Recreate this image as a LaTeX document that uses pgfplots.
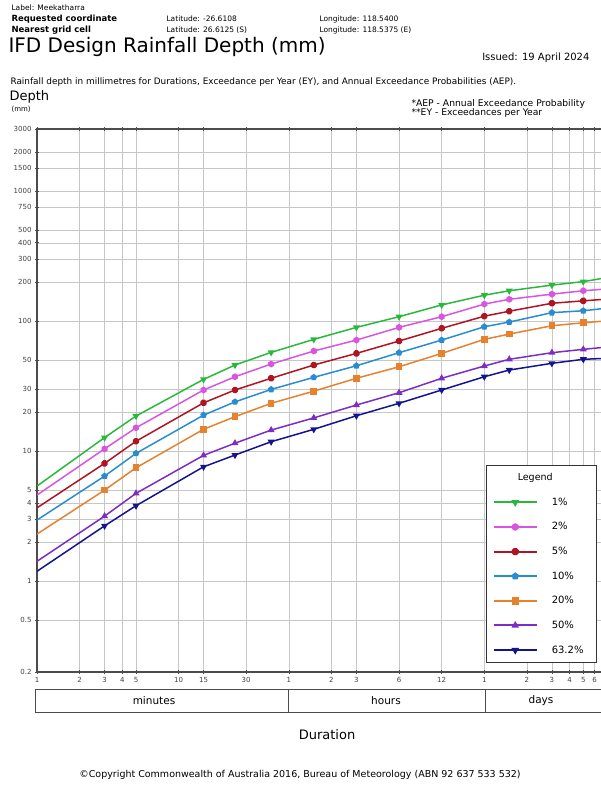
\documentclass[border=0pt]{standalone}
\usepackage{pgfplots}
\pgfplotsset{compat=1.18}
\usepackage{fontspec}
\setmainfont{DejaVu Sans}

\definecolor{aep1}{RGB}{40,185,60}
\definecolor{aep2}{RGB}{215,85,225}
\definecolor{aep5}{RGB}{175,20,35}
\definecolor{aep10}{RGB}{40,140,210}
\definecolor{aep20}{RGB}{230,130,45}
\definecolor{aep50}{RGB}{125,45,195}
\definecolor{aep63}{RGB}{20,20,145}

\pgfdeclareplotmark{hexagon*}{%
  \pgfpathmoveto{\pgfpointpolar{90}{\pgfplotmarksize}}%
  \pgfpathlineto{\pgfpointpolar{150}{\pgfplotmarksize}}%
  \pgfpathlineto{\pgfpointpolar{210}{\pgfplotmarksize}}%
  \pgfpathlineto{\pgfpointpolar{270}{\pgfplotmarksize}}%
  \pgfpathlineto{\pgfpointpolar{330}{\pgfplotmarksize}}%
  \pgfpathlineto{\pgfpointpolar{30}{\pgfplotmarksize}}%
  \pgfpathclose\pgfusepathqfillstroke}
\pgfdeclareplotmark{octagon*}{%
  \pgfpathmoveto{\pgfpointpolar{22.5}{\pgfplotmarksize}}%
  \pgfpathlineto{\pgfpointpolar{67.5}{\pgfplotmarksize}}%
  \pgfpathlineto{\pgfpointpolar{112.5}{\pgfplotmarksize}}%
  \pgfpathlineto{\pgfpointpolar{157.5}{\pgfplotmarksize}}%
  \pgfpathlineto{\pgfpointpolar{202.5}{\pgfplotmarksize}}%
  \pgfpathlineto{\pgfpointpolar{247.5}{\pgfplotmarksize}}%
  \pgfpathlineto{\pgfpointpolar{292.5}{\pgfplotmarksize}}%
  \pgfpathlineto{\pgfpointpolar{337.5}{\pgfplotmarksize}}%
  \pgfpathclose\pgfusepathqfillstroke}

% duration (minutes) vs depth (mm), one column per AEP
\pgfplotstableread{
dur   a1     a2     a5     a10    a20    a50    a63
1     5.38   4.59   3.66   2.95   2.30   1.42   1.19
3     12.7   10.4   8.04   6.42   5.01   3.16   2.66
5     18.6   15.1   11.9   9.60   7.44   4.73   3.80
15    35.6   29.5   23.5   18.9   14.7   9.27   7.57
25    45.9   37.3   29.5   23.9   18.4   11.5   9.32
45    57.4   46.7   36.3   29.8   23.3   14.5   11.8
90    72.3   58.8   45.9   36.9   28.9   18.0   14.7
180   89.4   71.4   56.4   45.3   36.3   22.6   18.7
360   108    89.4   70.2   57.1   44.5   28.1   23.3
720   133    108    87.9   71.4   56.4   36.3   29.5
1440  158    135    109    90.4   72.3   45.1   37.3
2160  171    147    119    98.2   79.4   50.8   42.0
4320  189    161    137    116    92.0   57.1   47.3
7200  201    171    143    120    97.0   60.6   50.8
10080 214    176    147    125    100    62.8   51.6
}\ifd

\begin{document}
\begin{tikzpicture}
\useasboundingbox (0,0) rectangle (600pt,791pt);

% header
\node[anchor=west, font=\fontsize{7.5}{8}\selectfont] at (8pt,783pt) {Label: Meekatharra};
\node[anchor=west, font=\fontsize{8.5}{9}\selectfont\bfseries] at (8pt,772pt) {Requested coordinate};
\node[anchor=west, font=\fontsize{7.5}{8}\selectfont] at (163pt,772pt) {Latitude: -26.6108};
\node[anchor=west, font=\fontsize{7.5}{8}\selectfont] at (316pt,772pt) {Longitude: 118.5400};
\node[anchor=west, font=\fontsize{8.5}{9}\selectfont\bfseries] at (8pt,761pt) {Nearest grid cell};
\node[anchor=west, font=\fontsize{7.5}{8}\selectfont] at (163pt,761pt) {Latitude: 26.6125 (S)};
\node[anchor=west, font=\fontsize{7.5}{8}\selectfont] at (316pt,761pt) {Longitude: 118.5375 (E)};
\node[anchor=west, font=\fontsize{20}{22}\selectfont] at (5pt,744pt) {IFD Design Rainfall Depth (mm)};
\node[anchor=east, font=\fontsize{10}{11}\selectfont] at (593pt,733pt) {Issued: 19 April 2024};
\node[anchor=west, font=\fontsize{8.9}{9}\selectfont] at (7pt,709pt) {Rainfall depth in millimetres for Durations, Exceedance per Year (EY), and Annual Exceedance Probabilities (AEP).};
\node[anchor=west, font=\fontsize{13}{14}\selectfont] at (6pt,694pt) {Depth};
\node[anchor=west, font=\fontsize{7}{8}\selectfont] at (8pt,682pt) {(mm)};
\node[anchor=west, font=\fontsize{9.2}{10}\selectfont] at (408pt,687pt) {*AEP - Annual Exceedance Probability};
\node[anchor=west, font=\fontsize{9.2}{10}\selectfont] at (408pt,678pt) {**EY - Exceedances per Year};

\begin{axis}[
  at={(37pt,119pt)}, anchor=south west,
  scale only axis, width=567pt, height=543pt,
  xmode=log, ymode=log,
  xmin=1, xmax=10080, ymin=0.2, ymax=3000,
  xtick={1,2,3,4,5,10,15,30,60,120,180,360,720,1440,2880,4320,5760,7200,8640},
  xticklabels={1,2,3,4,5,10,15,30,1,2,3,6,12,1,2,3,4,5,6},
  ytick={0.2,0.5,1,2,3,4,5,10,20,30,50,100,200,300,400,500,750,1000,1500,2000,3000},
  yticklabels={0.2,0.5,1,2,3,4,5,10,20,30,50,100,200,300,400,500,750,1000,1500,2000,3000},
  minor tick num=0, minor xtick={}, minor ytick={},
  tick label style={font=\fontsize{7}{8}\selectfont, text=black!75},
  tick align=center, major tick length=4pt, tick style={black!70, line width=0.6pt},
  axis line style={black!70, line width=1.2pt},
  grid=major, major grid style={black!22, line width=0.5pt},
  legend style={at={(rel axis cs:0.9877,0.3812)}, anchor=north east,
    draw=black!80, line width=1pt, fill=white,
    font=\fontsize{10}{11}\selectfont, row sep=11.7pt,
    inner xsep=6pt, inner ysep=6pt,
    /tikz/every odd column/.append style={column sep=12pt}},
  legend cell align=left,
  legend image code/.code={%
    \draw[#1, mark=none, line width=2pt] (0pt,0pt) -- (43pt,0pt);
    \draw[#1, only marks, mark size=3pt] plot coordinates {(0pt,0pt) (21.5pt,0pt)};},
  every axis plot/.append style={line width=1.5pt, mark size=2.6pt,
    mark indices={2,3,4,5,6,7,8,9,10,11,12,13,14}},
]
\addlegendimage{empty legend}
\addlegendentry{\hspace*{-34pt}\fontsize{9.5}{10}\selectfont Legend}
\addplot[color=aep1, mark=triangle*, mark options={rotate=180}] table[x=dur,y=a1] {\ifd};
\addlegendentry{1\%}
\addplot[color=aep2, mark=hexagon*] table[x=dur,y=a2] {\ifd};
\addlegendentry{2\%}
\addplot[color=aep5, mark=octagon*] table[x=dur,y=a5] {\ifd};
\addlegendentry{5\%}
\addplot[color=aep10, mark=pentagon*] table[x=dur,y=a10] {\ifd};
\addlegendentry{10\%}
\addplot[color=aep20, mark=square*] table[x=dur,y=a20] {\ifd};
\addlegendentry{20\%}
\addplot[color=aep50, mark=triangle*] table[x=dur,y=a50] {\ifd};
\addlegendentry{50\%}
\addplot[color=aep63, mark=triangle*, mark options={rotate=180}] table[x=dur,y=a63] {\ifd};
\addlegendentry{63.2\%\hspace*{5pt}}
\end{axis}

% duration unit boxes
\draw[black!70, line width=1pt] (35pt,101pt) rectangle (288pt,78pt);
\draw[black!70, line width=1pt] (288pt,101pt) rectangle (485pt,78pt);
\draw[black!70, line width=1pt] (485pt,101pt) rectangle (610pt,78pt);
\node[font=\fontsize{10.5}{11}\selectfont] at (154pt,90pt) {minutes};
\node[font=\fontsize{10.5}{11}\selectfont] at (386pt,90pt) {hours};
\node[font=\fontsize{10.5}{11}\selectfont] at (541pt,90pt) {days};

\node[font=\fontsize{13}{14}\selectfont] at (327pt,56pt) {Duration};
\node[font=\fontsize{9.5}{10}\selectfont] at (300pt,16pt) {\textcopyright Copyright Commonwealth of Australia 2016, Bureau of Meteorology (ABN 92 637 533 532)};
\end{tikzpicture}
\end{document}
